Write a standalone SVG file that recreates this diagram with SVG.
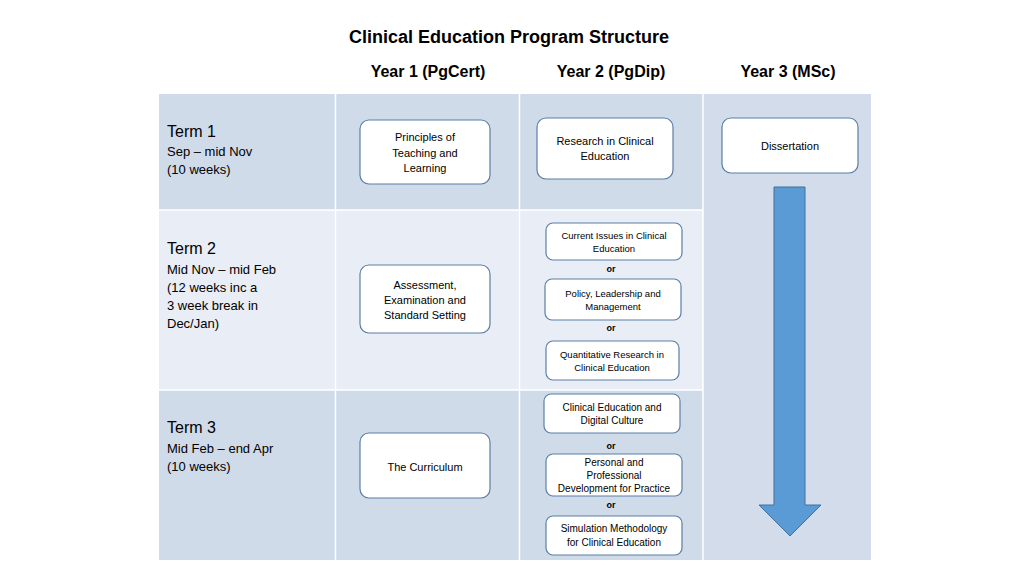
<svg xmlns="http://www.w3.org/2000/svg" width="1024" height="576" viewBox="0 0 1024 576">
<style>
text{font-family:"Liberation Sans",Arial,sans-serif;fill:#000}
.h{font-weight:bold;text-anchor:middle}
.t{font-size:16px}
.s{font-size:13px}
.box{fill:#fff;stroke:#5b7fa6;stroke-width:1.2}
.bt{font-size:11px;text-anchor:middle}
.st{font-size:9.5px;text-anchor:middle}
.mt{font-size:10px;text-anchor:middle}
.or{font-size:9px;font-weight:bold;text-anchor:middle}
</style>
<rect width="1024" height="576" fill="#fff"/>
<text class="h" x="509" y="43" font-size="18">Clinical Education Program Structure</text>
<text class="h" x="428" y="77" font-size="16">Year 1 (PgCert)</text>
<text class="h" x="611" y="77" font-size="16">Year 2 (PgDip)</text>
<text class="h" x="788" y="77" font-size="16">Year 3 (MSc)</text>
<g id="table">
<rect x="159" y="94" width="544" height="116" fill="#d0dbea"/>
<rect x="159" y="210" width="544" height="180" fill="#e9edf5"/>
<rect x="159" y="390" width="544" height="170" fill="#d0dbea"/>
<rect x="703" y="94" width="168" height="466" fill="#d2dcea"/>
<g stroke="#fff" stroke-width="1.5">
<line x1="335.5" y1="94" x2="335.5" y2="560"/>
<line x1="519.5" y1="94" x2="519.5" y2="560"/>
<line x1="703" y1="94" x2="703" y2="560"/>
<line x1="159" y1="210" x2="703" y2="210"/>
<line x1="159" y1="390" x2="703" y2="390"/>
</g>
</g>
<g id="term1">
<text class="t" x="167" y="137">Term 1</text>
<text class="s" x="167" y="156">Sep – mid Nov</text>
<text class="s" x="167" y="174">(10 weeks)</text>
</g>
<g id="term2">
<text class="t" x="167" y="254">Term 2</text>
<text class="s" x="167" y="274">Mid Nov – mid Feb</text>
<text class="s" x="167" y="292">(12 weeks inc a</text>
<text class="s" x="167" y="310">3 week break in</text>
<text class="s" x="167" y="328">Dec/Jan)</text>
</g>
<g id="term3">
<text class="t" x="167" y="433">Term 3</text>
<text class="s" x="167" y="453">Mid Feb – end Apr</text>
<text class="s" x="167" y="471">(10 weeks)</text>
</g>
<g id="principles">
<rect class="box" x="360" y="120" width="130" height="64" rx="9"/>
<text class="bt" x="425" y="141">Principles of</text>
<text class="bt" x="425" y="157">Teaching and</text>
<text class="bt" x="425" y="172">Learning</text>
</g>
<g id="assessment">
<rect class="box" x="360" y="265" width="130" height="68" rx="9"/>
<text class="bt" x="425" y="289">Assessment,</text>
<text class="bt" x="425" y="304">Examination and</text>
<text class="bt" x="425" y="319">Standard Setting</text>
</g>
<g id="curriculum">
<rect class="box" x="360" y="433" width="130" height="65" rx="9"/>
<text class="bt" x="425" y="471">The Curriculum</text>
</g>
<g id="research">
<rect class="box" x="537" y="118" width="136" height="61" rx="9"/>
<text class="bt" x="605" y="145">Research in Clinical</text>
<text class="bt" x="605" y="160">Education</text>
</g>
<g id="current">
<rect class="box" x="546" y="223" width="136" height="37" rx="7"/>
<text class="st" x="614" y="239">Current Issues in Clinical</text>
<text class="st" x="614" y="252">Education</text>
</g>
<text class="or" x="611" y="272">or</text>
<g id="policy">
<rect class="box" x="545" y="279" width="136" height="41" rx="7"/>
<text class="st" x="613" y="297">Policy, Leadership and</text>
<text class="st" x="613" y="310">Management</text>
</g>
<text class="or" x="611" y="331">or</text>
<g id="quantitative">
<rect class="box" x="546" y="341" width="133" height="39" rx="7"/>
<text class="st" x="612" y="358">Quantitative Research in</text>
<text class="st" x="612" y="371">Clinical Education</text>
</g>
<g id="digital">
<rect class="box" x="544" y="394" width="136" height="39" rx="7"/>
<text class="mt" x="612" y="411">Clinical Education and</text>
<text class="mt" x="612" y="424">Digital Culture</text>
</g>
<text class="or" x="611" y="449">or</text>
<g id="personal">
<rect class="box" x="546" y="454" width="136" height="42" rx="7"/>
<text class="mt" x="614" y="466">Personal and</text>
<text class="mt" x="614" y="479">Professional</text>
<text class="mt" x="614" y="492">Development for Practice</text>
</g>
<text class="or" x="611" y="508">or</text>
<g id="simulation">
<rect class="box" x="546" y="516" width="136" height="39" rx="7"/>
<text class="mt" x="614" y="532">Simulation Methodology</text>
<text class="mt" x="614" y="546">for Clinical Education</text>
</g>
<g id="dissertation">
<rect class="box" x="722" y="118" width="136" height="55" rx="9"/>
<text class="bt" x="790" y="150">Dissertation</text>
</g>
<g id="connectors">
<polygon points="774,187 805,187 805,505 821,505 790,536 759,505 774,505" fill="#5b9bd5" stroke="#41719c" stroke-width="1"/>
</g>
</svg>
